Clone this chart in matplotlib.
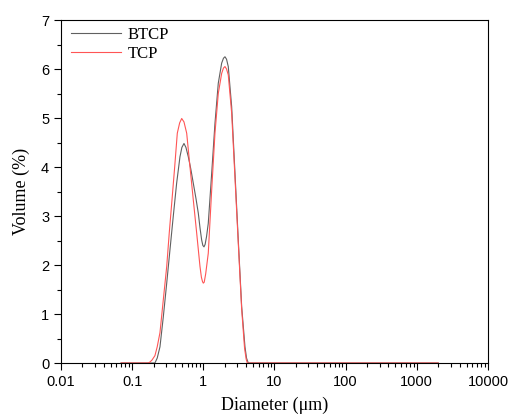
import matplotlib
matplotlib.use("Agg")
import matplotlib.pyplot as plt
from matplotlib.ticker import LogLocator, NullFormatter, MultipleLocator, FixedLocator

# particle size distribution
d_btcp = [0.07, 0.15, 0.209, 0.225, 0.246, 0.274, 0.306, 0.340, 0.378, 0.422, 0.470,
          0.500, 0.535, 0.570, 0.615, 0.665, 0.723, 0.790, 0.850, 0.900, 0.948, 0.985,
          1.022, 1.060, 1.110, 1.174, 1.311, 1.458, 1.623, 1.811, 1.920, 2.015, 2.120,
          2.242, 2.503, 2.786, 3.099, 3.459, 3.849, 4.050, 4.282, 10, 100, 1000, 2000]
v_btcp = [0, 0, 0, 0.10, 0.33, 0.94, 1.63, 2.31, 2.99, 3.67, 4.21,
          4.40, 4.48, 4.40, 4.21, 3.97, 3.67, 3.35, 3.06, 2.75, 2.51, 2.40,
          2.37, 2.42, 2.58, 2.85, 3.87, 4.89, 5.71, 6.12, 6.22, 6.25, 6.20,
          6.05, 5.23, 3.87, 2.51, 1.15, 0.33, 0.10, 0, 0, 0, 0, 0]

d_tcp = [0.07, 0.15, 0.1685, 0.178, 0.190, 0.209, 0.225, 0.246, 0.274, 0.306, 0.332,
         0.363, 0.396, 0.431, 0.465, 0.497, 0.535, 0.584, 0.650, 0.723, 0.807, 0.898,
         0.940, 0.975, 1.000, 1.030, 1.080, 1.174, 1.311, 1.458, 1.623, 1.811, 1.920,
         2.015, 2.120, 2.242, 2.503, 2.786, 3.099, 3.459, 3.800, 4.000, 4.150, 10, 100,
         1000, 2000]
v_tcp = [0, 0, 0, 0.02, 0.06, 0.15, 0.33, 0.62, 1.29, 1.97, 2.65,
         3.33, 4.00, 4.69, 4.90, 4.99, 4.92, 4.69, 4.00, 3.33, 2.65, 1.97,
         1.75, 1.66, 1.63, 1.65, 1.82, 2.24, 3.53, 4.69, 5.50, 5.91, 6.02,
         6.05, 6.00, 5.88, 5.10, 3.78, 2.45, 1.10, 0.30, 0.08, 0, 0, 0,
         0, 0]

fig = plt.figure(figsize=(5.09, 4.15), dpi=100)
ax = fig.add_axes([0.1198, 0.1253, 0.8389, 0.8265])

ax.plot(d_btcp, v_btcp, color='#606060', lw=0.8, label='BTCP')
ax.plot(d_tcp, v_tcp, color='#ff5555', lw=0.8, label='TCP')

ax.set_xscale('log')
ax.set_xlim(0.01, 10000)
ax.set_ylim(0, 7)
ax.xaxis.set_major_locator(FixedLocator([0.01, 0.1, 1, 10, 100, 1000, 10000]))
ax.xaxis.set_minor_locator(LogLocator(base=10, subs=range(2, 10), numticks=20))
ax.xaxis.set_minor_formatter(NullFormatter())
ax.set_xticklabels(['0.01', '0.1', '1', '10', '100', '1000', '10000'])
ax.yaxis.set_major_locator(MultipleLocator(1))
ax.yaxis.set_minor_locator(MultipleLocator(0.5))

ax.tick_params(which='both', direction='out', top=False, right=False,
               labelsize=10.5, width=0.8)
ax.tick_params(which='major', length=5)
ax.tick_params(which='minor', length=3)
for lab in ax.get_xticklabels() + ax.get_yticklabels():
    lab.set_family('Liberation Sans')
for s in ax.spines.values():
    s.set_linewidth(0.8)

ax.set_xlabel('Diameter (μm)', family='Liberation Serif', fontsize=13, labelpad=6)
ax.set_ylabel('Volume (%)', family='Liberation Serif', fontsize=13, labelpad=8)

ax.legend(loc='upper left', frameon=False, prop={'family': 'Liberation Serif', 'size': 12},
          handlelength=3, handletextpad=0.4, labelspacing=0.2,
          borderaxespad=0.2, bbox_to_anchor=(0.0, 1.01))

fig.savefig('out.png', dpi=100)
